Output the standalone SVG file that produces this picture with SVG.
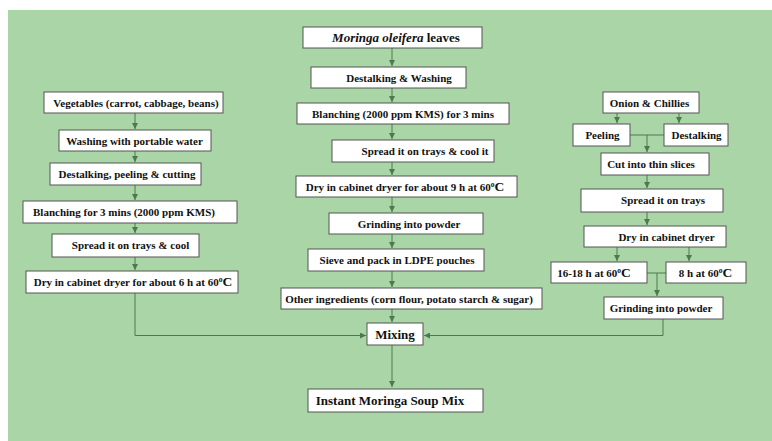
<svg xmlns="http://www.w3.org/2000/svg" width="772" height="441" viewBox="0 0 772 441">
<style>
.bx{fill:#ffffff;stroke:#555555;stroke-width:1}
.t{font-family:"Liberation Serif","Times New Roman",serif;font-weight:bold;font-size:11px;fill:#111111;text-anchor:middle}
.big{font-size:13px}
.c{fill:none;stroke:#4d7a4d;stroke-width:1}
.sup{font-size:7.5px}
.cc{font-size:13.5px}
</style>
<defs>
<marker id="ah" markerUnits="userSpaceOnUse" markerWidth="6" markerHeight="6" refX="6" refY="3" orient="auto">
<path d="M0,0 L6,3 L0,6 z" fill="#4d7a4d"/>
</marker>
</defs>
<rect x="0" y="0" width="772" height="441" fill="#ffffff"/>
<rect x="8" y="10" width="764" height="431" fill="#aad5a7"/>

<g id="connectors">
<path class="c" marker-end="url(#ah)" d="M392,48 V66"/>
<path class="c" marker-end="url(#ah)" d="M392,88 V102"/>
<path class="c" marker-end="url(#ah)" d="M392,124 V139"/>
<path class="c" marker-end="url(#ah)" d="M392,162 V175"/>
<path class="c" marker-end="url(#ah)" d="M392,197 V212"/>
<path class="c" marker-end="url(#ah)" d="M392,234 V248"/>
<path class="c" marker-end="url(#ah)" d="M392,271 V287"/>
<path class="c" marker-end="url(#ah)" d="M392,309 V322"/>
<path class="c" marker-end="url(#ah)" d="M392,345 V387"/>
<path class="c" marker-end="url(#ah)" d="M135,113 V129"/>
<path class="c" marker-end="url(#ah)" d="M135,151 V162"/>
<path class="c" marker-end="url(#ah)" d="M135,185 V200"/>
<path class="c" marker-end="url(#ah)" d="M135,223 V233"/>
<path class="c" marker-end="url(#ah)" d="M135,257 V270"/>
<path class="c" marker-end="url(#ah)" d="M135,293 V335.5 H366"/>
<path class="c" marker-end="url(#ah)" d="M617,113 V123"/>
<path class="c" marker-end="url(#ah)" d="M679,113 V123"/>
<path class="c" d="M630,135 H664"/>
<path class="c" marker-end="url(#ah)" d="M647,135 V152"/>
<path class="c" marker-end="url(#ah)" d="M647,175 V188"/>
<path class="c" marker-end="url(#ah)" d="M647,212 V225"/>
<path class="c" marker-end="url(#ah)" d="M617,247 V261"/>
<path class="c" marker-end="url(#ah)" d="M689,247 V261"/>
<path class="c" d="M647,273 H666"/>
<path class="c" marker-end="url(#ah)" d="M657,273 V296"/>
<path class="c" marker-end="url(#ah)" d="M663,319 V335.5 H424"/>
</g>

<g id="n-moringa"><rect class="bx" x="303" y="27" width="179" height="21"/><text class="t big" x="396" y="42"><tspan font-style="italic">Moringa oleifera</tspan> leaves</text></g>
<g id="n-destalk-wash"><rect class="bx" x="311" y="67" width="155" height="21"/><text class="t" font-size="11.5" x="399" y="82">Destalking &amp; Washing</text></g>
<g id="n-blanch-c"><rect class="bx" x="297" y="103" width="212" height="21"/><text class="t" x="403" y="118">Blanching (2000 ppm KMS) for 3 mins</text></g>
<g id="n-spread-c"><rect class="bx" x="332" y="140" width="162" height="22"/><text class="t" x="425" y="155">Spread it on trays &amp; cool it</text></g>
<g id="n-dry-c"><rect class="bx" x="296" y="176" width="221" height="21"/><text class="t" x="405" y="191">Dry in cabinet dryer for about 9 h at 60<tspan class="sup" dy="-4">o</tspan><tspan class="cc" dy="4">C</tspan></text></g>
<g id="n-grind-c"><rect class="bx" x="329" y="213" width="154" height="21"/><text class="t" x="409" y="228">Grinding into powder</text></g>
<g id="n-sieve"><rect class="bx" x="308" y="249" width="176" height="22"/><text class="t" x="397" y="264">Sieve and pack in LDPE pouches</text></g>
<g id="n-other"><rect class="bx" x="281" y="288" width="261" height="21"/><text class="t" x="409" y="303">Other ingredients (corn flour, potato starch &amp; sugar)</text></g>
<g id="n-mixing"><rect class="bx" x="367" y="323" width="56" height="22"/><text class="t big" x="395" y="339">Mixing</text></g>
<g id="n-instant"><rect class="bx" x="308" y="389" width="175" height="23"/><text class="t big" x="390" y="405">Instant Moringa Soup Mix</text></g>

<g id="n-veg"><rect class="bx" x="44" y="92" width="179" height="21"/><text class="t" x="136" y="107">Vegetables (carrot, cabbage, beans)</text></g>
<g id="n-wash"><rect class="bx" x="59" y="130" width="152" height="21"/><text class="t" x="134.5" y="145">Washing with portable water</text></g>
<g id="n-dpc"><rect class="bx" x="50" y="163" width="151" height="22"/><text class="t" x="127" y="178">Destalking, peeling &amp; cutting</text></g>
<g id="n-blanch-l"><rect class="bx" x="23" y="201" width="214" height="22"/><text class="t" x="124" y="216">Blanching for 3 mins (2000 ppm KMS)</text></g>
<g id="n-spread-l"><rect class="bx" x="52" y="234" width="147" height="23"/><text class="t" x="130.5" y="249">Spread it on trays &amp; cool</text></g>
<g id="n-dry-l"><rect class="bx" x="26" y="271" width="212" height="22"/><text class="t" x="133" y="286">Dry in cabinet dryer for about 6 h at 60<tspan class="sup" dy="-4">o</tspan><tspan class="cc" dy="4">C</tspan></text></g>

<g id="n-onion"><rect class="bx" x="603" y="92" width="96" height="21"/><text class="t" x="649.5" y="107">Onion &amp; Chillies</text></g>
<g id="n-peel"><rect class="bx" x="573" y="124" width="57" height="22"/><text class="t" x="602.5" y="139">Peeling</text></g>
<g id="n-destalk-r"><rect class="bx" x="664" y="124" width="64" height="22"/><text class="t" x="696.5" y="139">Destalking</text></g>
<g id="n-cut"><rect class="bx" x="601" y="153" width="108" height="22"/><text class="t" x="651" y="168">Cut into thin slices</text></g>
<g id="n-spread-r"><rect class="bx" x="581" y="189" width="142" height="23"/><text class="t" x="663" y="204">Spread it on trays</text></g>
<g id="n-dry-r"><rect class="bx" x="584" y="226" width="142" height="21"/><text class="t" x="666.5" y="241">Dry in cabinet dryer</text></g>
<g id="n-1618"><rect class="bx" x="551" y="262" width="96" height="21"/><text class="t" x="594" y="277">16-18 h at 60<tspan class="sup" dy="-4">o</tspan><tspan class="cc" dy="4">C</tspan></text></g>
<g id="n-8h"><rect class="bx" x="666" y="262" width="80" height="21"/><text class="t" x="705.5" y="277">8 h at 60<tspan class="sup" dy="-4">o</tspan><tspan class="cc" dy="4">C</tspan></text></g>
<g id="n-grind-r"><rect class="bx" x="604" y="297" width="119" height="22"/><text class="t" x="661" y="312">Grinding into powder</text></g>
</svg>
